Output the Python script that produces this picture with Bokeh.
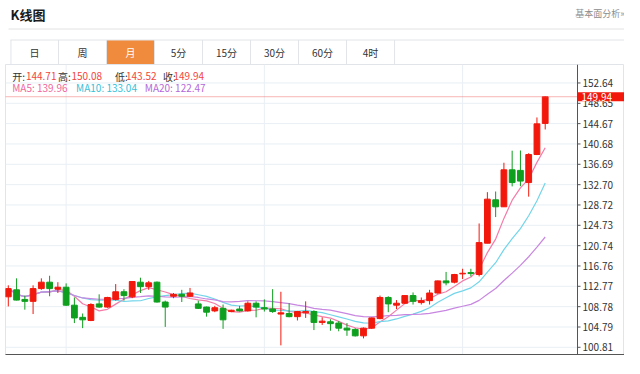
import numpy as np
import pandas as pd
from bokeh.plotting import figure
from bokeh.models import Range1d, FixedTicker, ColumnDataSource
from bokeh.layouts import column
from bokeh.embed import file_html
from bokeh.resources import INLINE
from bokeh.core.properties import value

# ---------------- data (monthly K-line) ----------------
OPEN = [110.71, 112.08, 110.20, 109.82, 112.32, 113.58, 112.21, 112.59, 109.07, 106.69,
        106.07, 109.32, 108.70, 110.20, 111.70, 110.71, 113.58, 112.70, 113.58, 109.69,
        110.82, 111.20, 110.82, 109.32, 108.70, 107.95, 108.45, 107.82, 108.32, 107.95,
        109.45, 108.57, 108.32, 107.33, 107.44, 106.82, 107.57, 107.82, 105.69, 105.82,
        105.56, 104.57, 104.32, 103.06, 104.57, 106.44, 110.58, 109.07, 109.45, 110.95,
        109.58, 109.96, 111.46, 113.83, 113.58, 115.21, 115.46, 115.08, 121.22, 129.73,
        128.36, 135.61, 135.50, 133.11, 138.61, 144.71]
HIGH = [112.96, 114.33, 110.95, 112.96, 114.33, 114.84, 113.58, 113.34, 110.58, 107.44,
        109.45, 111.20, 110.71, 113.21, 112.21, 113.80, 114.46, 113.83, 113.71, 109.96,
        111.46, 112.08, 112.45, 109.96, 108.80, 108.94, 109.20, 108.19, 108.94, 109.82,
        109.82, 110.20, 112.21, 111.70, 109.45, 107.95, 109.82, 108.08, 106.69, 106.31,
        105.94, 105.56, 104.57, 104.70, 106.65, 110.95, 110.82, 110.07, 111.05, 111.57,
        110.58, 112.08, 113.90, 115.59, 115.21, 116.21, 116.21, 125.09, 131.23, 131.36,
        137.00, 139.36, 139.40, 138.87, 145.88, 150.08]
LOW = [108.83, 110.00, 108.19, 107.33, 112.08, 110.82, 111.46, 108.94, 105.56, 104.57,
       105.94, 108.57, 108.57, 109.96, 109.96, 110.44, 111.46, 112.08, 109.58, 104.81,
       110.44, 109.69, 110.71, 108.32, 106.82, 107.70, 104.43, 107.70, 107.82, 107.82,
       106.69, 107.82, 107.57, 101.19, 106.69, 106.07, 106.57, 104.19, 105.19, 104.06,
       103.95, 103.06, 102.93, 102.56, 104.43, 106.31, 107.70, 108.32, 109.32, 109.20,
       109.20, 109.20, 111.33, 112.96, 113.34, 114.20, 114.71, 114.71, 121.22, 126.35,
       128.36, 132.36, 132.40, 130.35, 138.50, 143.52]
CLOSE = [112.32, 110.07, 109.82, 112.32, 113.58, 112.32, 112.59, 109.07, 106.57, 106.20,
         109.20, 108.70, 110.58, 111.70, 110.95, 113.71, 112.70, 113.45, 109.69, 108.70,
         111.20, 110.82, 111.46, 108.45, 107.70, 108.57, 106.20, 108.08, 107.95, 109.45,
         108.70, 108.32, 107.82, 107.57, 106.82, 107.82, 107.82, 105.69, 105.94, 105.45,
         104.57, 104.19, 103.06, 104.57, 106.57, 110.58, 109.32, 109.45, 110.95, 109.82,
         109.96, 111.46, 113.83, 113.45, 115.08, 115.33, 115.27, 121.34, 129.86, 128.36,
         135.61, 133.11, 133.40, 138.61, 144.62, 149.94]

MA_PERIODS = [5, 10, 20]
MA_LAST = [139.96, 133.04, 122.47]          # values shown in the info line
Y_TICKS = [100.81, 104.79, 108.78, 112.77, 116.76, 120.74, 124.73,
           128.72, 132.70, 136.69, 140.68, 144.67, 148.65, 152.64]
X_GRID = [7, 31, 55]
TABS = ["日", "周", "月", "5分", "15分", "30分", "60分", "4时"]
ACTIVE_TAB = 2
OHLC_NAMES = ["开:", "高:", "低:", "收:"]

# ---------------- styles ----------------
FONT = "Noto Sans CJK SC"
RED = "#f2180c"
GREEN = "#0e9f1e"
TXT_RED = "#f2463b"
MA_LINE_COLORS = ["#f57ca8", "#72d5ea", "#c887e0"]
MA_TEXT_COLORS = ["#f0679a", "#39bfd9", "#b569d8"]
GRID = "#e9eff5"
BORDER = "#e1e4e8"
AXIS = "#555555"

W = 624
HEAD_H = 64
CHART_H = 294

# ---------------- header ----------------
h = figure(width=W, height=HEAD_H, x_range=Range1d(0, W), y_range=Range1d(HEAD_H, 0),
           output_backend="svg", toolbar_location=None, min_border=0)
h.xaxis.visible = False
h.yaxis.visible = False
h.grid.visible = False
h.outline_line_color = None
h.background_fill_color = "white"

h.text(x=[5], y=[14], text=["K线图"], text_font=value(FONT), text_font_size=value("13px"),
       text_font_style="bold", text_color="#1a1a1a", text_baseline="middle")
h.text(x=[W], y=[13], text=["基本面分析»"], text_font=value(FONT), text_font_size=value("9px"),
       text_color="#8c8c8c", text_baseline="middle", text_align="right")
h.segment(x0=[3], y0=[28.5], x1=[W], y1=[28.5], line_color="#e2e2e2", line_width=1)

tab_w = 48.4
tab_x0 = 5
tab_top, tab_bot = 39.5, HEAD_H
lefts = [tab_x0 + i * tab_w for i in range(len(TABS))]
h.quad(left=[lefts[ACTIVE_TAB]], right=[lefts[ACTIVE_TAB] + tab_w], top=[tab_top], bottom=[tab_bot],
       fill_color="#f08a3c", line_color=None)
h.segment(x0=[tab_x0], y0=[tab_top], x1=[W], y1=[tab_top], line_color=BORDER, line_width=1)
sep_x = [tab_x0 + 0.5] + [l + tab_w for l in lefts]
h.segment(x0=sep_x, y0=[tab_top] * len(sep_x), x1=sep_x, y1=[tab_bot] * len(sep_x),
          line_color=BORDER, line_width=1)
h.text(x=[l + tab_w / 2 for l in lefts], y=[52] * len(TABS), text=TABS,
       text_font=value(FONT), text_font_size=value("10px"),
       text_color=["white" if i == ACTIVE_TAB else "#333333" for i in range(len(TABS))],
       text_align="center", text_baseline="middle")

# ---------------- chart ----------------
df = pd.DataFrame(dict(i=np.arange(len(CLOSE)), o=OPEN, h=HIGH, l=LOW, c=CLOSE))
df["top"] = df[["o", "c"]].max(axis=1)
df["bot"] = df[["o", "c"]].min(axis=1)
df["color"] = np.where(df.c >= df.o, RED, GREEN)
for n in MA_PERIODS:
    df[f"ma{n}"] = df.c.rolling(n, min_periods=1).mean()
src = ColumnDataSource(df)

LEFT_PAD = 5
FRAME_W = W - LEFT_PAD          # frame runs to the right edge; axis drawn inside
FRAME_H = 290
BOTTOM_PAD = CHART_H - FRAME_H
PX_PER_UNIT_X = 8.26
AXIS_PX = 572                   # axis line position from the frame's left edge
X0 = -0.34
X1 = X0 + FRAME_W / PX_PER_UNIT_X
X_AXIS = X0 + AXIS_PX / PX_PER_UNIT_X
Y0, Y1 = 99.40, 156.26
ux = 1.0 / PX_PER_UNIT_X
uy = (Y1 - Y0) / FRAME_H

p = figure(width=W, height=CHART_H, x_range=Range1d(X0, X1), y_range=Range1d(Y0, Y1),
           output_backend="svg", toolbar_location=None,
           min_border_left=LEFT_PAD, min_border_right=0, min_border_top=0,
           min_border_bottom=BOTTOM_PAD)
p.outline_line_color = BORDER
p.background_fill_color = "white"
p.border_fill_color = "white"
p.yaxis.visible = False
p.grid.visible = False
p.xaxis.ticker = FixedTicker(ticks=[])
p.xaxis.axis_line_color = AXIS
p.xaxis.major_tick_line_color = None
p.xaxis.minor_tick_line_color = None
p.xaxis.major_label_standoff = 0

# grid
p.segment(x0=[X0] * len(Y_TICKS), y0=Y_TICKS, x1=[X_AXIS] * len(Y_TICKS), y1=Y_TICKS,
          line_color=GRID, line_width=1)
p.segment(x0=X_GRID, y0=[Y0] * len(X_GRID), x1=X_GRID, y1=[Y1] * len(X_GRID),
          line_color=GRID, line_width=1)

# MA lines
for n, col in zip(MA_PERIODS, MA_LINE_COLORS):
    p.line("i", f"ma{n}", source=src, line_color=col, line_width=1.2)

# candles
p.segment(x0="i", y0="h", x1="i", y1="l", source=src, line_color="color", line_width=1)
p.vbar(x="i", width=0.7, top="top", bottom="bot", source=src, fill_color="color",
       line_color="color", line_width=1)

# right price axis (drawn inside the frame)
p.segment(x0=[X_AXIS], y0=[Y0], x1=[X_AXIS], y1=[Y1], line_color=AXIS, line_width=1)
p.segment(x0=[X_AXIS] * len(Y_TICKS), y0=Y_TICKS, x1=[X_AXIS + 3 * ux] * len(Y_TICKS), y1=Y_TICKS,
          line_color=AXIS, line_width=1)
p.text(x=[X_AXIS + 5 * ux] * len(Y_TICKS), y=Y_TICKS, text=[f"{t:.2f}" for t in Y_TICKS],
       text_font=value(FONT), text_font_size=value("10px"), text_color="#333333",
       text_baseline="middle")

# last price line and tag
last_close = CLOSE[-1]
p.segment(x0=[X0], y0=[last_close], x1=[X_AXIS], y1=[last_close], line_color="#f36a6a",
          line_dash="1 1", line_width=1)
p.quad(left=[X_AXIS + 0.5 * ux], right=[X1], top=[last_close + 4.5 * uy],
       bottom=[last_close - 4.5 * uy], fill_color=RED, line_color=None)
p.text(x=[X_AXIS + 4 * ux], y=[last_close], text=[f"{last_close:.2f}"], text_font=value(FONT),
       text_font_size=value("10px"), text_color="white", text_baseline="middle")

# info text (positions in pixels from the frame's top-left corner)
def px_text(pxs, py, texts, colors):
    p.text(x=[X0 + v * ux for v in pxs], y=[Y1 - py * uy] * len(pxs), text=texts,
           text_font=value(FONT), text_font_size=value("10px"), text_color=colors,
           text_baseline="middle")

ohlc_last = [OPEN[-1], HIGH[-1], LOW[-1], CLOSE[-1]]
name_px = [6.7, 52.5, 109.5, 157.5]
val_px = [20.4, 66, 120.5, 168]
px_text(name_px, 11.6, OHLC_NAMES, ["#333333"] * 4)
px_text(val_px, 11.6, [f"{v:.2f}" for v in ohlc_last], [TXT_RED] * 4)

ma_px = [6.7, 70.6, 139.3]
px_text(ma_px, 23, [f"MA{n}: {v:.2f}" for n, v in zip(MA_PERIODS, MA_LAST)], MA_TEXT_COLORS)

layout = column(h, p, spacing=0)
open("out.html", "w").write(file_html(layout, INLINE))
